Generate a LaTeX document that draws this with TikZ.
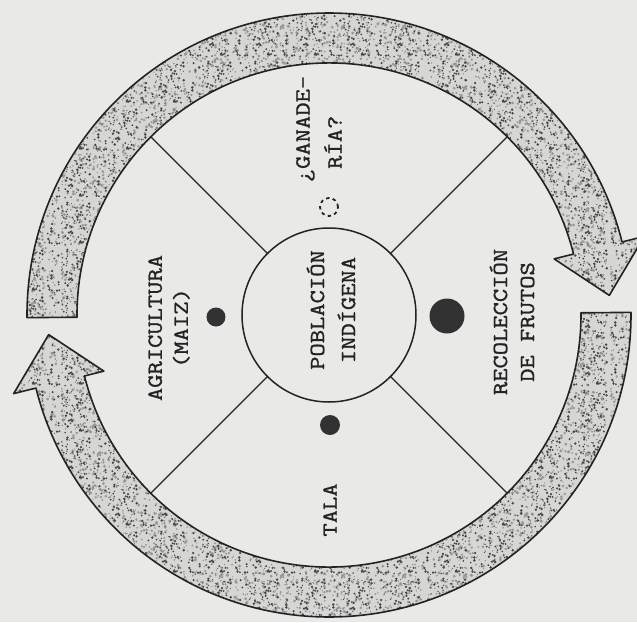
\documentclass[tikz,border=0pt]{standalone}
\usepackage{fontspec}
\usetikzlibrary{patterns}
\newfontfamily\tw{Latin Modern Mono}[FakeStretch=1.2,FakeBold=1.3]
\definecolor{paper}{RGB}{233,233,231}
\definecolor{ringbase}{RGB}{214,214,212}
\definecolor{speck}{RGB}{70,70,70}
\definecolor{speckb}{RGB}{150,150,150}
\definecolor{ink}{RGB}{35,35,35}
\definecolor{dotfill}{RGB}{50,50,50}
\pgfdeclarepatternformonly{speckdark}{\pgfqpoint{0pt}{0pt}}{\pgfqpoint{47pt}{47pt}}{\pgfqpoint{47pt}{47pt}}{%
  \pgfmathsetseed{3}%
  \foreach \i in {1,...,95}{%
    \pgfmathsetmacro\xx{1.6+rnd*43.8}%
    \pgfmathsetmacro\yy{1.6+rnd*43.8}%
    \pgfmathsetmacro\ss{0.45+rnd*0.95}%
    \pgfpathcircle{\pgfpoint{\xx pt}{\yy pt}}{\ss pt}%
    \pgfusepath{fill}%
  }%
}
\pgfdeclarepatternformonly{specklight}{\pgfqpoint{0pt}{0pt}}{\pgfqpoint{61pt}{61pt}}{\pgfqpoint{61pt}{61pt}}{%
  \pgfmathsetseed{11}%
  \foreach \i in {1,...,150}{%
    \pgfmathsetmacro\xx{1.8+rnd*57.4}%
    \pgfmathsetmacro\yy{1.8+rnd*57.4}%
    \pgfmathsetmacro\ss{0.6+rnd*1.1}%
    \pgfpathcircle{\pgfpoint{\xx pt}{\yy pt}}{\ss pt}%
    \pgfusepath{fill}%
  }%
}
\tikzset{
  ringline/.style={draw=ink,line width=1.6pt,line join=round},
  spoke/.style={draw=ink,line width=1.2pt},
  lab/.style={rotate=90,align=center,text=ink,inner sep=0pt},
  bigcirc/.style={circle,draw=ink,line width=1.5pt,minimum size=174pt,inner sep=0pt,outer sep=0pt},
  mark dot/.style={circle,fill=dotfill,inner sep=0pt},
  open dot/.style={circle,draw=ink,line width=1.8pt,dash pattern=on 3.4pt off 3.4pt,inner sep=0pt}
}
\begin{document}
\begin{tikzpicture}[x=1pt,y=1pt]
\useasboundingbox (-329,-307) rectangle (308,315);
\fill[paper] (-329,-307) rectangle (308,315);
\clip (-329,-307) rectangle (308,315);

\def\UpperArrow{(180.5:302) arc[start angle=180.5,end angle=14,radius=302] -- (14:325) -- (4:281) -- (14:232) -- (14:252) arc[start angle=14,end angle=180.5,radius=252] -- cycle}
\def\LowerArrow{(0.5:302) arc[start angle=0.5,end angle=-166,radius=302] -- (-166:325) -- (-176:281) -- (-166:232) -- (-166:252) arc[start angle=-166,end angle=0.5,radius=252] -- cycle}

% speckled ring arrows
\fill[ringbase] \UpperArrow;
\fill[ringbase] \LowerArrow;
\fill[pattern=specklight,pattern color=speckb] \UpperArrow;
\fill[pattern=specklight,pattern color=speckb] \LowerArrow;
\fill[pattern=speckdark,pattern color=speck] \UpperArrow;
\fill[pattern=speckdark,pattern color=speck] \LowerArrow;
\draw[ringline] \UpperArrow;
\draw[ringline] \LowerArrow;

% centre circle and spokes
\node[bigcirc] (pob) at (0,0) {};
\coordinate (s45) at (45:252);
\coordinate (s135) at (135:252);
\coordinate (s225) at (225:252);
\coordinate (s315) at (315:252);
\draw[spoke] (pob.45) -- (s45);
\draw[spoke] (pob.135) -- (s135);
\draw[spoke] (pob.225) -- (s225);
\draw[spoke] (pob.315) -- (s315);

% markers
\node[mark dot,minimum size=19pt] (dagri) at (-113,-2) {};
\node[mark dot,minimum size=35pt] (drec) at (118,-1) {};
\node[mark dot,minimum size=20pt] (dtala) at (1,-110) {};
\node[open dot,minimum size=18pt] (dgan) at (0,108) {};

% labels
\node[lab,font=\tw\fontsize{21.5}{31}\selectfont] (tpob) at (2,5) {POBLACIÓN\\INDÍGENA};
\node[lab,font=\tw\fontsize{21.5}{26}\selectfont] (tagri) at (-160,-13) {AGRICULTURA\\(MAIZ)};
\node[lab,font=\tw\fontsize{21.5}{27}\selectfont] (trec) at (183,-7) {RECOLECCIÓN\\DE FRUTOS};
\node[lab,font=\tw\fontsize{21.5}{26}\selectfont] (ttala) at (1,-195) {TALA};
\node[lab,align=left,font=\tw\fontsize{21.5}{32}\selectfont] (tgan) at (-10,186) {¿GANADE-\\~RÍA?};
\end{tikzpicture}
\end{document}
